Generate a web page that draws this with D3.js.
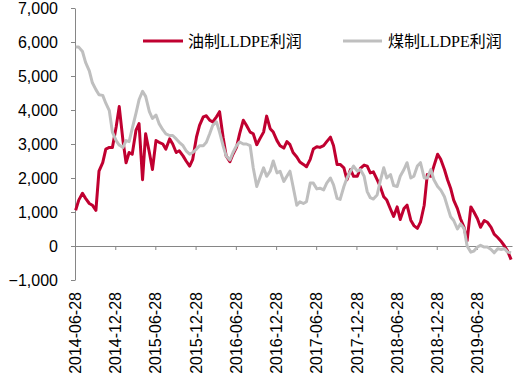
<!DOCTYPE html>
<html>
<head>
<meta charset="utf-8">
<script src="https://cdn.jsdelivr.net/npm/d3@7"></script>
<style>
  html, body { margin: 0; padding: 0; background: #ffffff; }
  svg { display: block; }
</style>
</head>
<body>
<svg id="chart" width="526" height="382"></svg>
<script>
// ---------- DATA ----------
const seriesNames = ["油制LLDPE利润", "煤制LLDPE利润"];

const dates = [
  "2014-07-01","2014-07-15","2014-08-01","2014-08-15","2014-09-01","2014-09-15","2014-10-01","2014-10-15","2014-11-01","2014-11-15","2014-12-01","2014-12-15",
  "2015-01-01","2015-01-15","2015-02-01","2015-02-15","2015-03-01","2015-03-15","2015-04-01","2015-04-15","2015-05-01","2015-05-15","2015-06-01","2015-06-15",
  "2015-07-01","2015-07-15","2015-08-01","2015-08-15","2015-09-01","2015-09-15","2015-10-01","2015-10-15","2015-11-01","2015-11-15","2015-12-01","2015-12-15",
  "2016-01-01","2016-01-15","2016-02-01","2016-02-15","2016-03-01","2016-03-15","2016-04-01","2016-04-15","2016-05-01","2016-05-15","2016-06-01","2016-06-15",
  "2016-07-01","2016-07-15","2016-08-01","2016-08-15","2016-09-01","2016-09-15","2016-10-01","2016-10-15","2016-11-01","2016-11-15","2016-12-01","2016-12-15",
  "2017-01-01","2017-01-15","2017-02-01","2017-02-15","2017-03-01","2017-03-15","2017-04-01","2017-04-15","2017-05-01","2017-05-15","2017-06-01","2017-06-15",
  "2017-07-01","2017-07-15","2017-08-01","2017-08-15","2017-09-01","2017-09-15","2017-10-01","2017-10-15","2017-11-01","2017-11-15","2017-12-01","2017-12-15",
  "2018-01-01","2018-01-15","2018-02-01","2018-02-15","2018-03-01","2018-03-15","2018-04-01","2018-04-15","2018-05-01","2018-05-15","2018-06-01","2018-06-15",
  "2018-07-01","2018-07-15","2018-08-01","2018-08-15","2018-09-01","2018-09-15","2018-10-01","2018-10-15","2018-11-01","2018-11-15","2018-12-01","2018-12-15",
  "2019-01-01","2019-01-15","2019-02-01","2019-02-15","2019-03-01","2019-03-15","2019-04-01","2019-04-15","2019-05-01","2019-05-15","2019-06-01","2019-06-15",
  "2019-07-01","2019-07-15","2019-08-01","2019-08-15","2019-09-01","2019-09-15","2019-10-01","2019-10-15","2019-11-01","2019-11-15","2019-12-01"
];

// 油制LLDPE利润 (oil-based)
const oilProfit = [
  1050,1350,1550,1400,1250,1200,1050,2200,2450,2850,2900,2900,
  3500,4100,3100,2450,2750,2700,3400,3600,1950,3300,2750,2250,
  3100,3050,3000,2850,3150,3000,2750,2800,2650,2500,2350,2550,
  3200,3550,3800,3830,3700,3650,3800,3950,3200,2650,2480,2700,
  2900,3300,3700,3550,3350,3300,2980,3150,3350,3820,3450,3350,
  3100,2950,2880,3070,2980,2750,2620,2470,2400,2330,2550,2850,
  2920,2900,2950,3070,3200,2950,2400,2400,2300,1950,2250,2050,
  2050,2280,2380,2350,2150,2180,1950,1750,1450,1350,1080,870,
  1150,780,1100,1200,760,600,520,700,1200,2100,2050,2350,
  2700,2550,2250,1950,1700,1350,1100,800,550,150,1150,1000,
  800,550,750,700,550,350,250,150,0,-150,-400
];

// 煤制LLDPE利润 (coal-based)
const coalProfit = [
  5850,5850,5720,5400,5150,4800,4600,4450,4430,4200,3980,3350,
  3100,2970,2900,3100,3070,3450,3900,4300,4550,4400,3950,3750,
  3850,3600,3420,3300,3250,3250,3150,3050,2950,2800,2700,2750,
  2850,2950,2950,3050,3300,3550,3650,3350,2950,2650,2530,2750,
  2950,3060,3000,3000,2950,2300,1750,2000,2300,2050,2200,2500,
  2150,2200,1900,2050,2200,1750,1200,1300,1250,1300,1850,1850,
  1680,1700,1650,1850,2000,1800,1400,1370,1750,2000,2200,2350,
  2200,2250,2050,1600,1420,1380,1500,1900,2300,2000,2100,1780,
  1750,2050,2250,2450,2000,2050,2350,2450,2000,2000,2250,1950,
  1750,1650,1450,1150,860,750,500,650,520,0,-180,-150,
  -30,20,-30,-30,-100,-200,-80,-100,-80,-180,-200
];

const yTicks = [-1000, 0, 1000, 2000, 3000, 4000, 5000, 6000, 7000];
const xTickLabels = ["2014-06-28","2014-12-28","2015-06-28","2015-12-28","2016-06-28","2016-12-28",
                     "2017-06-28","2017-12-28","2018-06-28","2018-12-28","2019-06-28"];
const xDomain = ["2014-06-28", "2019-12-05"];

// ---------- CHART ----------
const parse = d3.timeParse("%Y-%m-%d");
const svg = d3.select("#chart");
const axisColor = "#868686";
const oilColor = "#C00030";
const coalColor = "#BFBFBF";

const x = d3.scaleTime().domain(xDomain.map(parse)).range([75, 512]);
const y = d3.scaleLinear().domain([-1000, 7000]).range([280, 8]);

const oilData = dates.map((d, i) => ({ date: parse(d), v: oilProfit[i] }));
const coalData = dates.map((d, i) => ({ date: parse(d), v: coalProfit[i] }));

const line = d3.line().x(d => x(d.date)).y(d => y(d.v)).curve(d3.curveLinear);

// Y axis
const yAxis = svg.append("g")
  .attr("transform", "translate(75,0)")
  .call(d3.axisLeft(y).tickValues(yTicks).tickFormat(d3.format(",")).tickSize(4).tickSizeOuter(0));
yAxis.selectAll("path.domain").attr("stroke", axisColor);
yAxis.selectAll(".tick line").attr("stroke", axisColor);
yAxis.selectAll(".tick text")
  .attr("x", -17)
  .attr("fill", "#000")
  .style("font-family", "'Liberation Sans', Arial, sans-serif")
  .style("font-size", "16px");

// X axis at zero
const xAxis = svg.append("g")
  .attr("transform", `translate(0,${y(0)})`)
  .call(d3.axisBottom(x).tickValues(xTickLabels.map(parse)).tickFormat(d3.timeFormat("%Y-%m-%d")).tickSize(4).tickSizeOuter(0));
xAxis.selectAll("path.domain").attr("stroke", axisColor);
xAxis.selectAll(".tick line").attr("stroke", axisColor);
xAxis.selectAll(".tick text")
  .attr("x", 0)
  .attr("y", 0)
  .attr("dy", "0.35em")
  .attr("text-anchor", "end")
  .attr("transform", `translate(0,${292 - y(0)}) rotate(-90)`)
  .attr("fill", "#000")
  .style("font-family", "'Liberation Sans', Arial, sans-serif")
  .style("font-size", "16px");

// Lines
svg.append("path").datum(oilData)
  .attr("fill", "none").attr("stroke", oilColor).attr("stroke-width", 3)
  .attr("stroke-linejoin", "round").attr("d", line);
svg.append("path").datum(coalData)
  .attr("fill", "none").attr("stroke", coalColor).attr("stroke-width", 3)
  .attr("stroke-linejoin", "round").attr("d", line);

// Legend
const legend = [
  { name: seriesNames[0], color: oilColor, x0: 143, x1: 183, tx: 188 },
  { name: seriesNames[1], color: coalColor, x0: 343, x1: 382, tx: 388 }
];
legend.forEach(l => {
  svg.append("line").attr("x1", l.x0).attr("x2", l.x1).attr("y1", 41).attr("y2", 41)
    .attr("stroke", l.color).attr("stroke-width", 3);
  svg.append("text").attr("x", l.tx).attr("y", 41).attr("dy", "0.35em")
    .attr("fill", "#000")
    .style("font-family", "'Liberation Serif', 'Noto Sans CJK SC', serif")
    .style("font-size", "16px")
    .text(l.name);
});
</script>
</body>
</html>
